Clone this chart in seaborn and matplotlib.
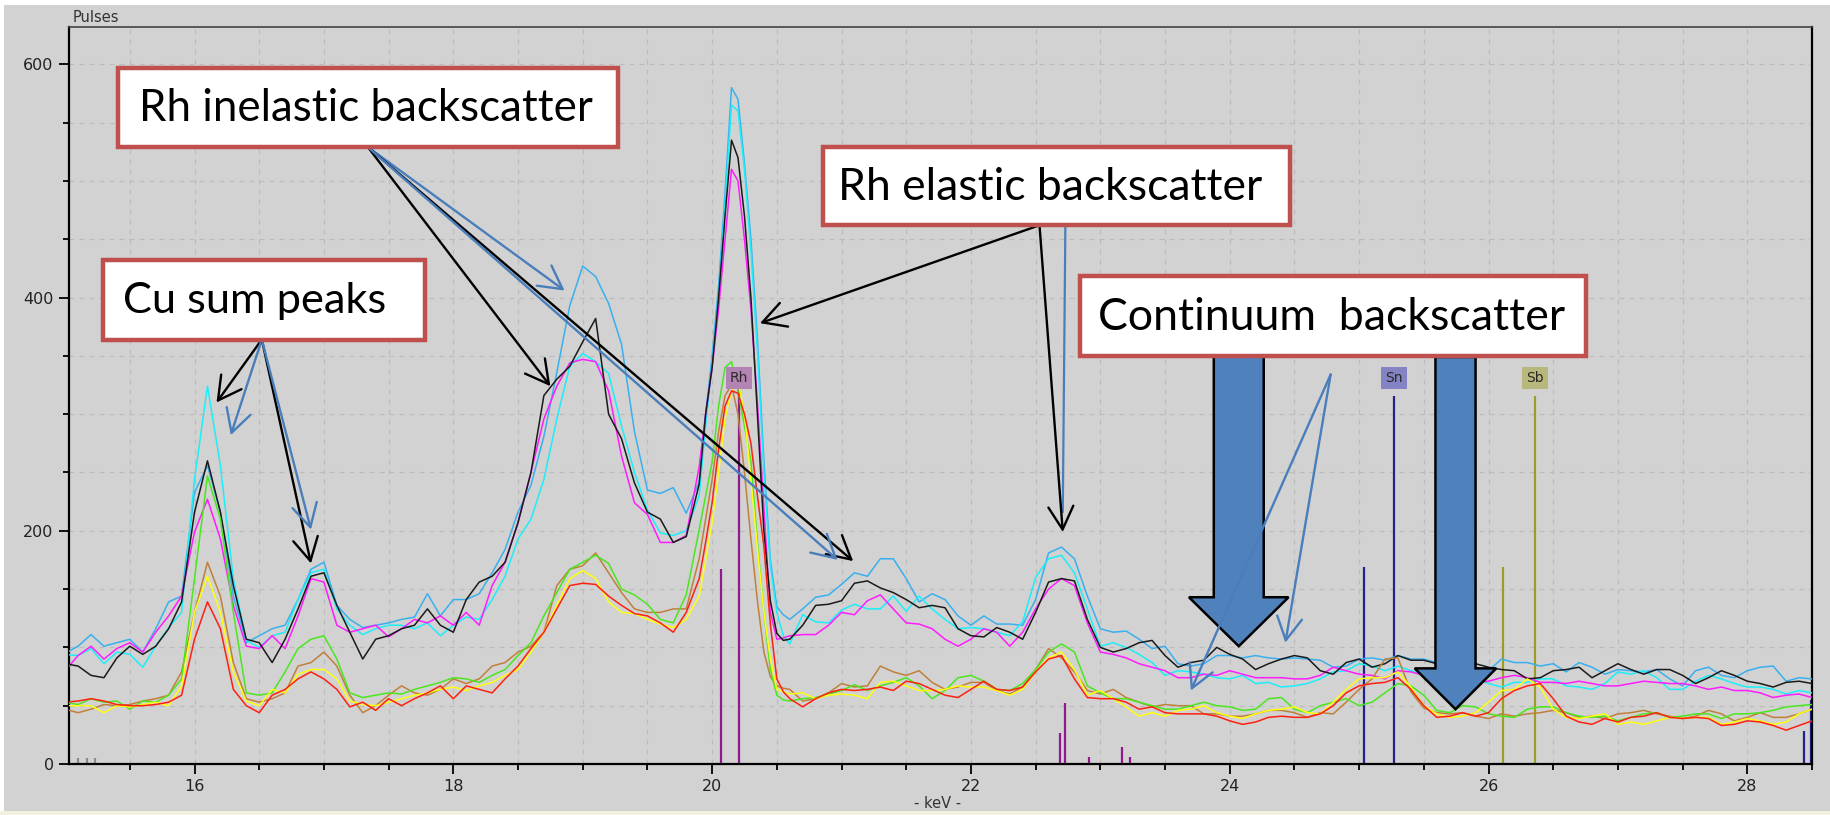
import numpy as np
import pandas as pd
import matplotlib
matplotlib.use("Agg")
import matplotlib.pyplot as plt
import matplotlib.patches as mpatches
import seaborn as sns

# ---------------- data ----------------
energy = np.r_[np.arange(150, 199) / 10, np.arange(398, 412) / 20, np.arange(206, 286) / 10]

light_blue = [95, 101, 111, 101, 104, 107, 96, 116, 139, 144,
              233, 256, 216, 144, 104, 110, 116, 119, 141, 167,
              173, 136, 124, 117, 119, 121, 124, 126, 146, 127,
              141, 141, 146, 164, 184, 216, 239, 281, 336, 393,
              427, 418, 395, 360, 285, 235, 232, 237, 215,
              242, 300, 350, 410, 490, 580, 570, 515, 450, 365, 260, 175, 135, 128,
              124, 133, 143, 145,
              154, 164, 161, 176, 176, 159, 139, 146, 141, 127,
              119, 127, 120, 120, 119, 141, 181, 186, 176, 144,
              116, 113, 114, 107, 99, 101, 86, 84, 86, 93,
              93, 91, 93, 91, 90, 91, 90, 89, 83, 84,
              90, 91, 89, 93, 90, 90, 87, 86, 84, 83,
              80, 90, 87, 87, 84, 86, 79, 87, 83, 77,
              81, 80, 79, 81, 73, 67, 80, 83, 76, 74,
              80, 83, 84, 71, 74, 73]

cyan = [94, 93, 99, 86, 96, 94, 83, 101, 117, 130,
        244, 324, 256, 159, 106, 100, 110, 113, 141, 164,
        167, 133, 119, 111, 116, 119, 119, 116, 121, 110,
        119, 126, 124, 141, 161, 193, 210, 244, 296, 341,
        352, 345, 335, 290, 250, 218, 198, 196, 200,
        230, 290, 345, 400, 480, 565, 560, 510, 440, 355, 250, 170, 130, 110,
        103, 128, 122, 121,
        132, 137, 133, 133, 144, 131, 144, 133, 124, 116,
        117, 116, 113, 110, 122, 160, 176, 179, 164, 133,
        101, 104, 100, 94, 87, 76, 80, 79, 77, 74,
        73, 76, 69, 70, 66, 67, 69, 73, 79, 80,
        86, 84, 80, 84, 80, 77, 76, 77, 76, 74,
        69, 66, 70, 70, 73, 73, 67, 66, 64, 69,
        79, 77, 80, 74, 64, 64, 71, 76, 73, 69,
        66, 66, 64, 60, 63, 61]

black = [86, 84, 76, 74, 91, 101, 94, 101, 116, 139,
         216, 260, 216, 153, 107, 104, 87, 107, 133, 161,
         164, 136, 113, 90, 107, 110, 116, 119, 133, 119,
         113, 141, 156, 161, 173, 207, 250, 316, 330, 341,
         362, 382, 300, 279, 241, 216, 210, 190, 195,
         240, 300, 340, 400, 470, 535, 520, 470, 400, 300, 200, 140, 112, 106,
         107, 119, 136, 137,
         140, 155, 157, 151, 147, 141, 134, 136, 134, 116,
         110, 109, 117, 113, 107, 130, 156, 159, 157, 124,
         100, 96, 99, 104, 106, 93, 83, 87, 89, 100,
         94, 90, 81, 86, 90, 93, 91, 80, 77, 87,
         90, 83, 86, 93, 89, 89, 86, 84, 84, 86,
         83, 81, 80, 73, 74, 80, 81, 83, 74, 80,
         86, 81, 77, 81, 81, 76, 69, 74, 80, 76,
         71, 69, 66, 70, 71, 69]

magenta = [80, 93, 101, 90, 99, 104, 96, 113, 127, 144,
           199, 227, 193, 136, 101, 99, 110, 99, 127, 159,
           156, 119, 113, 116, 119, 109, 116, 124, 121, 127,
           119, 130, 119, 153, 173, 207, 250, 296, 324, 344,
           347, 345, 320, 264, 224, 214, 190, 190, 196,
           255, 300, 340, 390, 450, 510, 500, 450, 390, 310, 220, 130, 107, 108,
           110, 111, 111, 119,
           130, 128, 140, 145, 133, 121, 120, 116, 107, 101,
           107, 116, 113, 101, 113, 133, 150, 159, 153, 121,
           96, 94, 91, 86, 83, 80, 74, 74, 77, 76,
           80, 77, 74, 74, 74, 73, 73, 76, 83, 80,
           77, 76, 73, 80, 79, 76, 74, 73, 71, 70,
           71, 74, 76, 74, 70, 70, 69, 71, 69, 67,
           67, 69, 71, 70, 69, 69, 67, 64, 66, 63,
           63, 61, 57, 59, 60, 57]

green = [53, 51, 56, 53, 54, 47, 54, 53, 59, 73,
         159, 247, 210, 130, 61, 59, 61, 79, 99, 107,
         110, 90, 61, 57, 59, 61, 60, 64, 67, 70,
         74, 73, 70, 76, 81, 93, 104, 127, 147, 167,
         173, 179, 172, 150, 145, 137, 124, 121, 145,
         201, 230, 259, 307, 340, 345, 320, 290, 259, 190, 130, 81, 59, 55,
         54, 56, 57, 60,
         63, 68, 63, 67, 70, 74, 67, 56, 63, 74,
         76, 71, 64, 63, 69, 81, 96, 103, 96, 67,
         61, 56, 56, 53, 50, 47, 47, 50, 53, 50,
         49, 46, 47, 56, 57, 47, 44, 50, 53, 56,
         50, 53, 61, 69, 67, 59, 46, 44, 50, 49,
         43, 41, 40, 47, 49, 49, 44, 41, 40, 41,
         37, 40, 43, 44, 40, 41, 43, 43, 39, 43,
         43, 44, 46, 49, 50, 51]

brown = [47, 44, 47, 51, 50, 51, 54, 56, 59, 79,
         130, 173, 144, 87, 56, 53, 56, 61, 84, 87,
         96, 84, 59, 44, 50, 59, 67, 61, 59, 64,
         73, 69, 73, 84, 87, 96, 101, 113, 153, 167,
         170, 181, 164, 147, 133, 130, 130, 133, 133,
         176, 210, 244, 285, 316, 325, 300, 250, 193, 140, 96, 75, 67, 65,
         64, 54, 56, 61,
         69, 66, 67, 84, 79, 76, 80, 70, 64, 66,
         70, 70, 63, 60, 66, 81, 99, 91, 79, 63,
         60, 64, 57, 53, 49, 51, 50, 50, 43, 43,
         41, 41, 43, 46, 46, 44, 40, 44, 43, 53,
         64, 73, 90, 91, 62, 48, 44, 43, 44, 41,
         39, 43, 41, 43, 44, 46, 44, 40, 41, 39,
         43, 44, 46, 43, 41, 39, 41, 46, 43, 37,
         40, 44, 40, 40, 43, 47]

yellow = [50, 50, 50, 44, 50, 49, 51, 53, 50, 67,
          130, 161, 130, 79, 54, 50, 64, 61, 77, 81,
          81, 73, 54, 51, 50, 53, 56, 59, 61, 64,
          66, 63, 67, 70, 76, 81, 96, 113, 136, 159,
          166, 159, 139, 130, 129, 124, 120, 117, 124,
          144, 175, 207, 250, 296, 320, 328, 300, 244, 185, 130, 90, 64, 62,
          60, 61, 56, 59,
          60, 59, 56, 70, 71, 67, 63, 63, 64, 67,
          66, 66, 63, 59, 64, 79, 91, 96, 81, 59,
          63, 56, 49, 41, 44, 41, 46, 47, 50, 44,
          41, 39, 43, 46, 47, 49, 44, 43, 53, 64,
          73, 74, 74, 79, 66, 50, 43, 40, 41, 44,
          53, 63, 64, 73, 66, 47, 40, 39, 41, 43,
          34, 36, 34, 37, 40, 39, 40, 40, 34, 36,
          39, 37, 34, 36, 43, 47]

red = [53, 54, 56, 54, 51, 50, 50, 51, 53, 59,
       107, 139, 116, 64, 50, 44, 59, 64, 73, 79,
       73, 64, 49, 53, 46, 56, 50, 56, 61, 67,
       56, 67, 64, 61, 73, 84, 99, 113, 133, 153,
       155, 154, 144, 136, 129, 127, 121, 113, 130,
       159, 190, 224, 270, 307, 320, 318, 300, 275, 230, 187, 120, 73, 62,
       56, 49, 56, 61,
       64, 63, 64, 66, 63, 71, 69, 64, 59, 57,
       64, 71, 64, 63, 66, 79, 90, 93, 73, 57,
       56, 56, 53, 47, 49, 44, 43, 43, 43, 41,
       37, 34, 36, 40, 41, 40, 40, 43, 50, 61,
       67, 69, 70, 74, 64, 50, 40, 41, 44, 41,
       44, 56, 63, 67, 69, 56, 41, 36, 34, 39,
       36, 40, 41, 44, 40, 39, 40, 39, 33, 34,
       37, 36, 33, 29, 33, 37]

spectrum_names = ["light blue", "cyan", "magenta", "black", "brown", "green", "yellow", "red"]
spectrum_values = [light_blue, cyan, magenta, black, brown, green, yellow, red]
spectrum_colors = ["#39b0ee", "#1ceefa", "#ff1cff", "#1a1a1a", "#c0803a", "#4ae61e", "#ffff10", "#ff2010"]

# element marker lines (keV, height in pulses)
marker_energy = [15.10, 15.17, 15.23, 20.07, 20.21, 22.69, 22.73, 22.91, 23.17, 23.23,
                 25.04, 25.27, 26.11, 26.36, 28.44, 28.49]
marker_height = [5, 5, 5, 167, 322, 27, 52, 6, 15, 6, 169, 316, 169, 316, 28, 55]
marker_element = ["bg", "bg", "bg", "Rh", "Rh", "Rh", "Rh", "Rh", "Rh", "Rh",
                  "Sn", "Sn", "Sb", "Sb", "Sn", "Sn"]
label_element = ["Rh", "Sn", "Sb"]
label_energy = [20.21, 25.27, 26.36]
label_level = [331, 331, 331]

x_ticks = [16, 18, 20, 22, 24, 26, 28]
y_ticks = [0, 200, 400, 600]

# ---------------- figure ----------------
W, H = 1831, 815
sns.set_theme(style="ticks")
plt.rcParams["font.family"] = ["DejaVu Sans"]

BG = "#d2d2d2"
fig = plt.figure(figsize=(W / 100, H / 100), dpi=100, facecolor=BG)


def fx(px):
    return px / W


def fy(py):
    return 1 - py / H


# window edges
fig.patches.append(mpatches.Rectangle((0, fy(5)), 1, 5 / H, transform=fig.transFigure,
                                      fc="white", ec="none", zorder=-1))
fig.patches.append(mpatches.Rectangle((0, 0), fx(4), 1, transform=fig.transFigure,
                                      fc="white", ec="none", zorder=-1))
fig.patches.append(mpatches.Rectangle((0, 0), 1, 4 / H, transform=fig.transFigure,
                                      fc="#f3f0e2", ec="none", zorder=-1))

ax = fig.add_axes([fx(69), fy(764), fx(1812 - 69), (764 - 27) / H])
ax.set_facecolor(BG)

df = pd.concat([pd.DataFrame({"keV": energy, "pulses": v, "spectrum": n})
                for n, v in zip(spectrum_names, spectrum_values)], ignore_index=True)
for n, v in zip(spectrum_names, spectrum_values):
    assert len(v) == len(energy), (n, len(v))

sns.lineplot(data=df, x="keV", y="pulses", hue="spectrum", hue_order=spectrum_names,
             palette=dict(zip(spectrum_names, spectrum_colors)), estimator=None,
             sort=False, legend=False, linewidth=1.1, ax=ax, zorder=3)

el_colors = {"Rh": "#8e1a8e", "Sn": "#22228a", "Sb": "#9c9c26", "bg": "#8a8a8a"}
ax.vlines(marker_energy, 0, marker_height, colors=[el_colors[e] for e in marker_element],
          linewidth=1.6, zorder=2)
lab_fc = {"Rh": "#b383b3", "Sn": "#8484c4", "Sb": "#b8b87c"}
for el, e, lv in zip(label_element, label_energy, label_level):
    ax.text(e, lv, el, ha="center", va="center", fontsize=10, color="#2a2a2a", zorder=4,
            bbox=dict(boxstyle="square,pad=0.28", fc=lab_fc[el], ec="none"))

ax.set_xlim(15.03, 28.5)
ax.set_ylim(0, 632)
ax.set_xticks(x_ticks)
ax.set_yticks(y_ticks)
ax.set_xticks(np.arange(15.5, 28.51, 0.5), minor=True)
ax.set_yticks(np.arange(0, 632, 50), minor=True)
ax.tick_params(which="major", direction="out", length=7, width=1.3, color="black",
               labelsize=11.5, labelcolor="#222222", pad=4)
ax.tick_params(which="minor", direction="out", length=4, width=1.3, color="black")
ax.grid(which="minor", color="#bcbcbc", linestyle=(0, (4, 4)), linewidth=0.9)
ax.grid(which="major", color="#bcbcbc", linestyle=(0, (4, 4)), linewidth=0.9)
ax.set_xlabel("")
ax.set_ylabel("")
for side in ["left", "bottom", "right"]:
    ax.spines[side].set_color("black")
    ax.spines[side].set_linewidth(1.6)
ax.spines["top"].set_color("#444444")
ax.spines["top"].set_linewidth(1.2)

fig.text(fx(73), fy(17), "Pulses", fontsize=10.5, color="#333333", va="center", ha="left")
fig.text(fx(938), fy(803), "- keV -", fontsize=10.5, color="#333333", va="center", ha="center")

# ---------------- annotations ----------------
BLUE = "#4a7ebb"


def arrow(xy_from, xy_to, color):
    ax.annotate("", xy=xy_to, xytext=xy_from, xycoords="data", textcoords="data",
                arrowprops=dict(arrowstyle="->,head_length=0.55,head_width=0.3", lw=1.7,
                                color=color, shrinkA=0, shrinkB=0, mutation_scale=30),
                zorder=6)


# big block arrows (behind the text boxes)
for cx, top, tip, shaft_w, head_w, head_len in [(24.07, 352, 101, 0.386, 0.77, 42),
                                                (25.745, 349, 47, 0.31, 0.63, 35)]:
    ax.add_patch(mpatches.FancyArrow(cx, top, 0, tip - top, width=shaft_w, head_width=head_w,
                                     head_length=head_len, length_includes_head=True,
                                     fc="#4f81bd", ec="black", lw=1.8, zorder=5))

arrow((17.34, 529), (18.75, 324), "black")
arrow((17.34, 529), (18.86, 406), BLUE)
arrow((17.34, 529), (21.09, 174), "black")
arrow((17.34, 529), (20.97, 175), BLUE)

arrow((16.52, 364), (16.17, 310), "black")
arrow((16.52, 364), (16.28, 282), BLUE)
arrow((16.52, 364), (16.90, 172), "black")
arrow((16.52, 364), (16.90, 201), BLUE)

arrow((22.53, 462), (20.37, 378), "black")
arrow((22.53, 462), (22.71, 199), "black")
ax.plot([22.73, 22.71], [462, 216], color=BLUE, lw=1.6, zorder=5)

arrow((24.78, 334), (23.70, 63), BLUE)
arrow((24.78, 334), (24.43, 104), BLUE)

# callout boxes (pixel layout of the slide overlay)
boxes = [("Rh inelastic backscatter", 118, 68, 618, 147, 139, 452),
         ("Cu sum peaks", 103, 260, 425, 340, 123, 264),
         ("Rh elastic backscatter", 823, 147, 1290, 225, 838, 423),
         ("Continuum  backscatter", 1080, 276, 1586, 356, 1098, 467)]
fig.canvas.draw()
renderer = fig.canvas.get_renderer()
for text, x0, y0, x1, y1, tx, tw in boxes:
    fig.patches.append(mpatches.Rectangle((fx(x0), fy(y1)), fx(x1 - x0), (y1 - y0) / H,
                                          transform=fig.transFigure, fc="white",
                                          ec="#c0504d", lw=3.2, zorder=10))
    t = fig.text(fx(tx), fy((y0 + y1) / 2 + 1), text, fontsize=30, family=["Lato", "DejaVu Sans"],
                 color="black", ha="left", va="center", zorder=11)
    w = t.get_window_extent(renderer).width
    t.set_fontsize(30 * tw / w)

fig.savefig("out.png", dpi=100, facecolor=BG)
